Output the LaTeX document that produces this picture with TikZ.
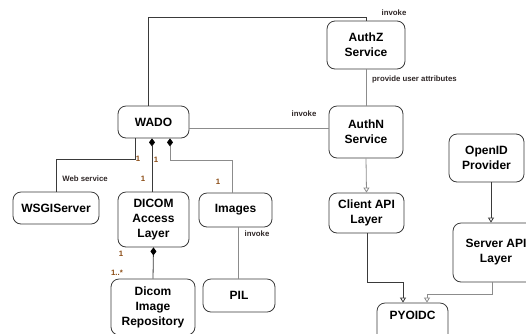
\documentclass[tikz,border=0pt]{standalone}
\usepackage{fontspec}
\setmainfont{Liberation Sans}
\usetikzlibrary{arrows.meta}

\definecolor{edgedark}{HTML}{3A3A3A}
\definecolor{edgelight}{HTML}{8C8C8C}
\definecolor{labeltext}{HTML}{2E2626}
\definecolor{multtext}{HTML}{8A4A12}

\tikzset{
  block/.style={draw=edgedark, line width=0.8pt, rounded corners=8pt, fill=white,
    align=center, inner sep=0pt, font=\fontsize{12}{15}\selectfont\bfseries},
  darkline/.style={draw=edgedark, line width=0.8pt},
  lightline/.style={draw=edgelight, line width=0.8pt},
  openhead/.style={-{Triangle[open, width=6pt, length=5pt]}},
  wholepart/.style={{Diamond[width=6pt, length=8pt, color=black]}-},
  note/.style={font=\fontsize{7.8}{9}\selectfont\bfseries, text=labeltext, inner sep=0pt},
  mult/.style={font=\fontsize{7.8}{9}\selectfont\bfseries, text=multtext, inner sep=0pt}
}

\begin{document}
\begin{tikzpicture}[x=1pt, y=-1pt]
  \useasboundingbox (0,0) rectangle (526,333);
  \clip (0,0) rectangle (526,333);

  % components
  \node[block, minimum width=78pt, minimum height=48pt] (authz) at (366,45) {AuthZ\\Service};
  \node[block, minimum width=71pt, minimum height=32pt] (wado) at (153.5,122) {WADO};
  \node[block, minimum width=74pt, minimum height=52pt] (authn) at (366,132) {AuthN\\Service};
  \node[block, minimum width=75pt, minimum height=48pt] (openid) at (486.5,158) {OpenID\\Provider};
  \node[block, minimum width=75pt, minimum height=40pt] (client) at (366.5,213) {Client API\\Layer};
  \node[block, minimum width=86pt, minimum height=59pt] (server) at (496,252.5) {Server API\\Layer};
  \node[block, minimum width=71pt, minimum height=42pt, text height=9pt, text depth=18.4pt] (pyoidc) at (412.5,324) {PYOIDC};
  \node[block, minimum width=86pt, minimum height=32pt] (wsgi) at (56,208) {WSGIServer};
  \node[block, minimum width=71pt, minimum height=55pt] (dicom) at (153.5,219.5) {DICOM\\Access\\Layer};
  \node[block, minimum width=73pt, minimum height=34pt] (images) at (235.5,210) {Images};
  \node[block, minimum width=72pt, minimum height=33pt] (pil) at (239,295.5) {PIL};
  \node[block, minimum width=84pt, minimum height=56pt] (repo) at (153,307) {Dicom\\Image\\Repository};

  % bend points of the routed connectors
  \coordinate (wadoUp) at (148,17);
  \coordinate (invokeRow) at (0,128);
  \coordinate (wsgiBend) at (135,159);
  \coordinate (dicomCol) at (152,0);
  \coordinate (imgBendA) at (170,160);
  \coordinate (imgBendB) at (232,160);
  \coordinate (pilCol) at (238,0);
  \coordinate (clientBendA) at (367,282);
  \coordinate (clientBendB) at (403,282);
  \coordinate (serverBendA) at (492,294);
  \coordinate (serverBendB) at (427,294);
  \coordinate (openidCol) at (491,0);

  % connectors
  \draw[darkline] (wado.north -| wadoUp) -- (wadoUp) -| (authz.north);
  \draw[lightline] (authz.south) -- (authn.north);
  \draw[lightline] (wado.east |- invokeRow) -- (authn.west |- invokeRow);
  \draw[darkline] (wado.south -| wsgiBend) -- (wsgiBend) -| (wsgi.north);
  \draw[darkline, wholepart] (wado.south -| dicomCol) -- (dicom.north -| dicomCol);
  \draw[lightline, wholepart] (wado.south -| imgBendA) -- (imgBendA) -- (imgBendB) -- (images.north -| imgBendB);
  \draw[darkline, wholepart] (dicom.south) -- (repo.north);
  \draw[lightline] (images.south -| pilCol) -- (pil.north -| pilCol);
  \draw[lightline, openhead] (authn.south) -- (client.north);
  \draw[darkline, openhead] (client.south -| clientBendA) -- (clientBendA) -- (clientBendB) -- (pyoidc.north -| clientBendB);
  \draw[lightline, openhead] (server.south -| serverBendA) -- (serverBendA) -- (serverBendB) -- (pyoidc.north -| serverBendB);
  \draw[darkline, openhead] (openid.south -| openidCol) -- (server.north -| openidCol);

  % connector labels
  \node[note] (lblAuthz) at (394,13) {invoke};
  \node[note, anchor=west] (lblAttr) at (372,79) {provide user attributes};
  \node[note] (lblAuthn) at (304,114) {invoke};
  \node[note] (lblWeb) at (85,179) {Web service};
  \node[note] (lblPil) at (257,234) {invoke};
  \node[mult] (mWsgi) at (138,159) {1};
  \node[mult] (mDicomTop) at (156,160) {1};
  \node[mult] (mDicomLow) at (143,179) {1};
  \node[mult] (mImages) at (218,182) {1};
  \node[mult] (mRepoTop) at (121,254) {1};
  \node[mult] (mRepoLow) at (117,273) {1..*};
\end{tikzpicture}
\end{document}
